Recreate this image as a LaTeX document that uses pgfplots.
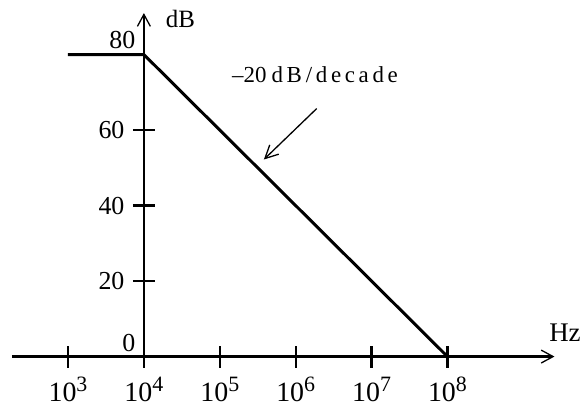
\documentclass[border=0pt]{standalone}
\usepackage{fontspec}
\setmainfont{Liberation Serif}
\usepackage{pgfplots}
\pgfplotsset{compat=1.18}
\usetikzlibrary{arrows.meta}

% x is the decade offset from 10^4 (so the dB axis sits at x = 0)
\newcommand{\dec}[1]{10\raisebox{10pt}{\fontsize{22}{24}\selectfont #1}}
\begin{document}
\begin{tikzpicture}
\begin{axis}[
  x=76.2pt, y=3.79pt,
  axis lines=middle,
  clip=false,
  xmin=-1.739, xmax=5.41, ymin=0, ymax=91,
  axis line style={line width=2.2pt, -{Straight Barb[length=12pt,width=13pt,line width=1.3pt]}},
  xtick={-1,0,1,2,3,4},
  xticklabels={\dec{3},\dec{4},\dec{5},\dec{6},\dec{7},\dec{8}},
  ytick={20,40,60},
  extra y ticks={0,80},
  extra y tick labels={\raisebox{28pt}{0}\hspace{-10pt},\raisebox{29pt}{80}\hspace{-4pt}},
  extra y tick style={major tick length=0pt},
  hide obscured x ticks=false, hide obscured y ticks=false,
  tick style={line width=2.2pt, black},
  major tick length=22pt, tick align=center,
  /pgf/number format/assume math mode=true,
  tick label style={font=\fontsize{26}{30}\selectfont},
  xticklabel style={anchor=base, yshift=-34pt, font=\fontsize{28}{30}\selectfont},
  yticklabel style={anchor=east, xshift=-5pt},
  xlabel={Hz}, ylabel={dB},
  every axis x label/.style={at={(axis description cs:1,0)}, anchor=base west, xshift=-8.7pt, yshift=15pt, font=\fontsize{27}{30}\selectfont},
  every axis y label/.style={at={(axis description cs:0.2432,1)}, anchor=base west, xshift=18.5pt, yshift=-14pt, font=\fontsize{25}{30}\selectfont},
]
% asymptotic gain: flat to the corner, then -20 dB per decade
\addplot[black, line width=3pt, line join=miter] coordinates {(-1,80) (0,80) (4,0)};
\node[anchor=base west, inner sep=0pt] at (axis cs:1.161,72.6)
  {\fontsize{23}{27}\selectfont\textendash20\hspace{5pt}{\addfontfeature{LetterSpace=16}dB\,/\,decade}};
\draw[line width=1.3pt, -{Straight Barb[length=13pt,width=13pt,line width=1.3pt]}] (axis cs:2.277,65.7) -- (axis cs:1.581,52.2);
\coordinate (bl) at (axis cs:-1.896,-13.72);
\coordinate (tr) at (axis cs:5.768,94.46);
\end{axis}
\useasboundingbox (bl) rectangle (tr);
\end{tikzpicture}
\end{document}
